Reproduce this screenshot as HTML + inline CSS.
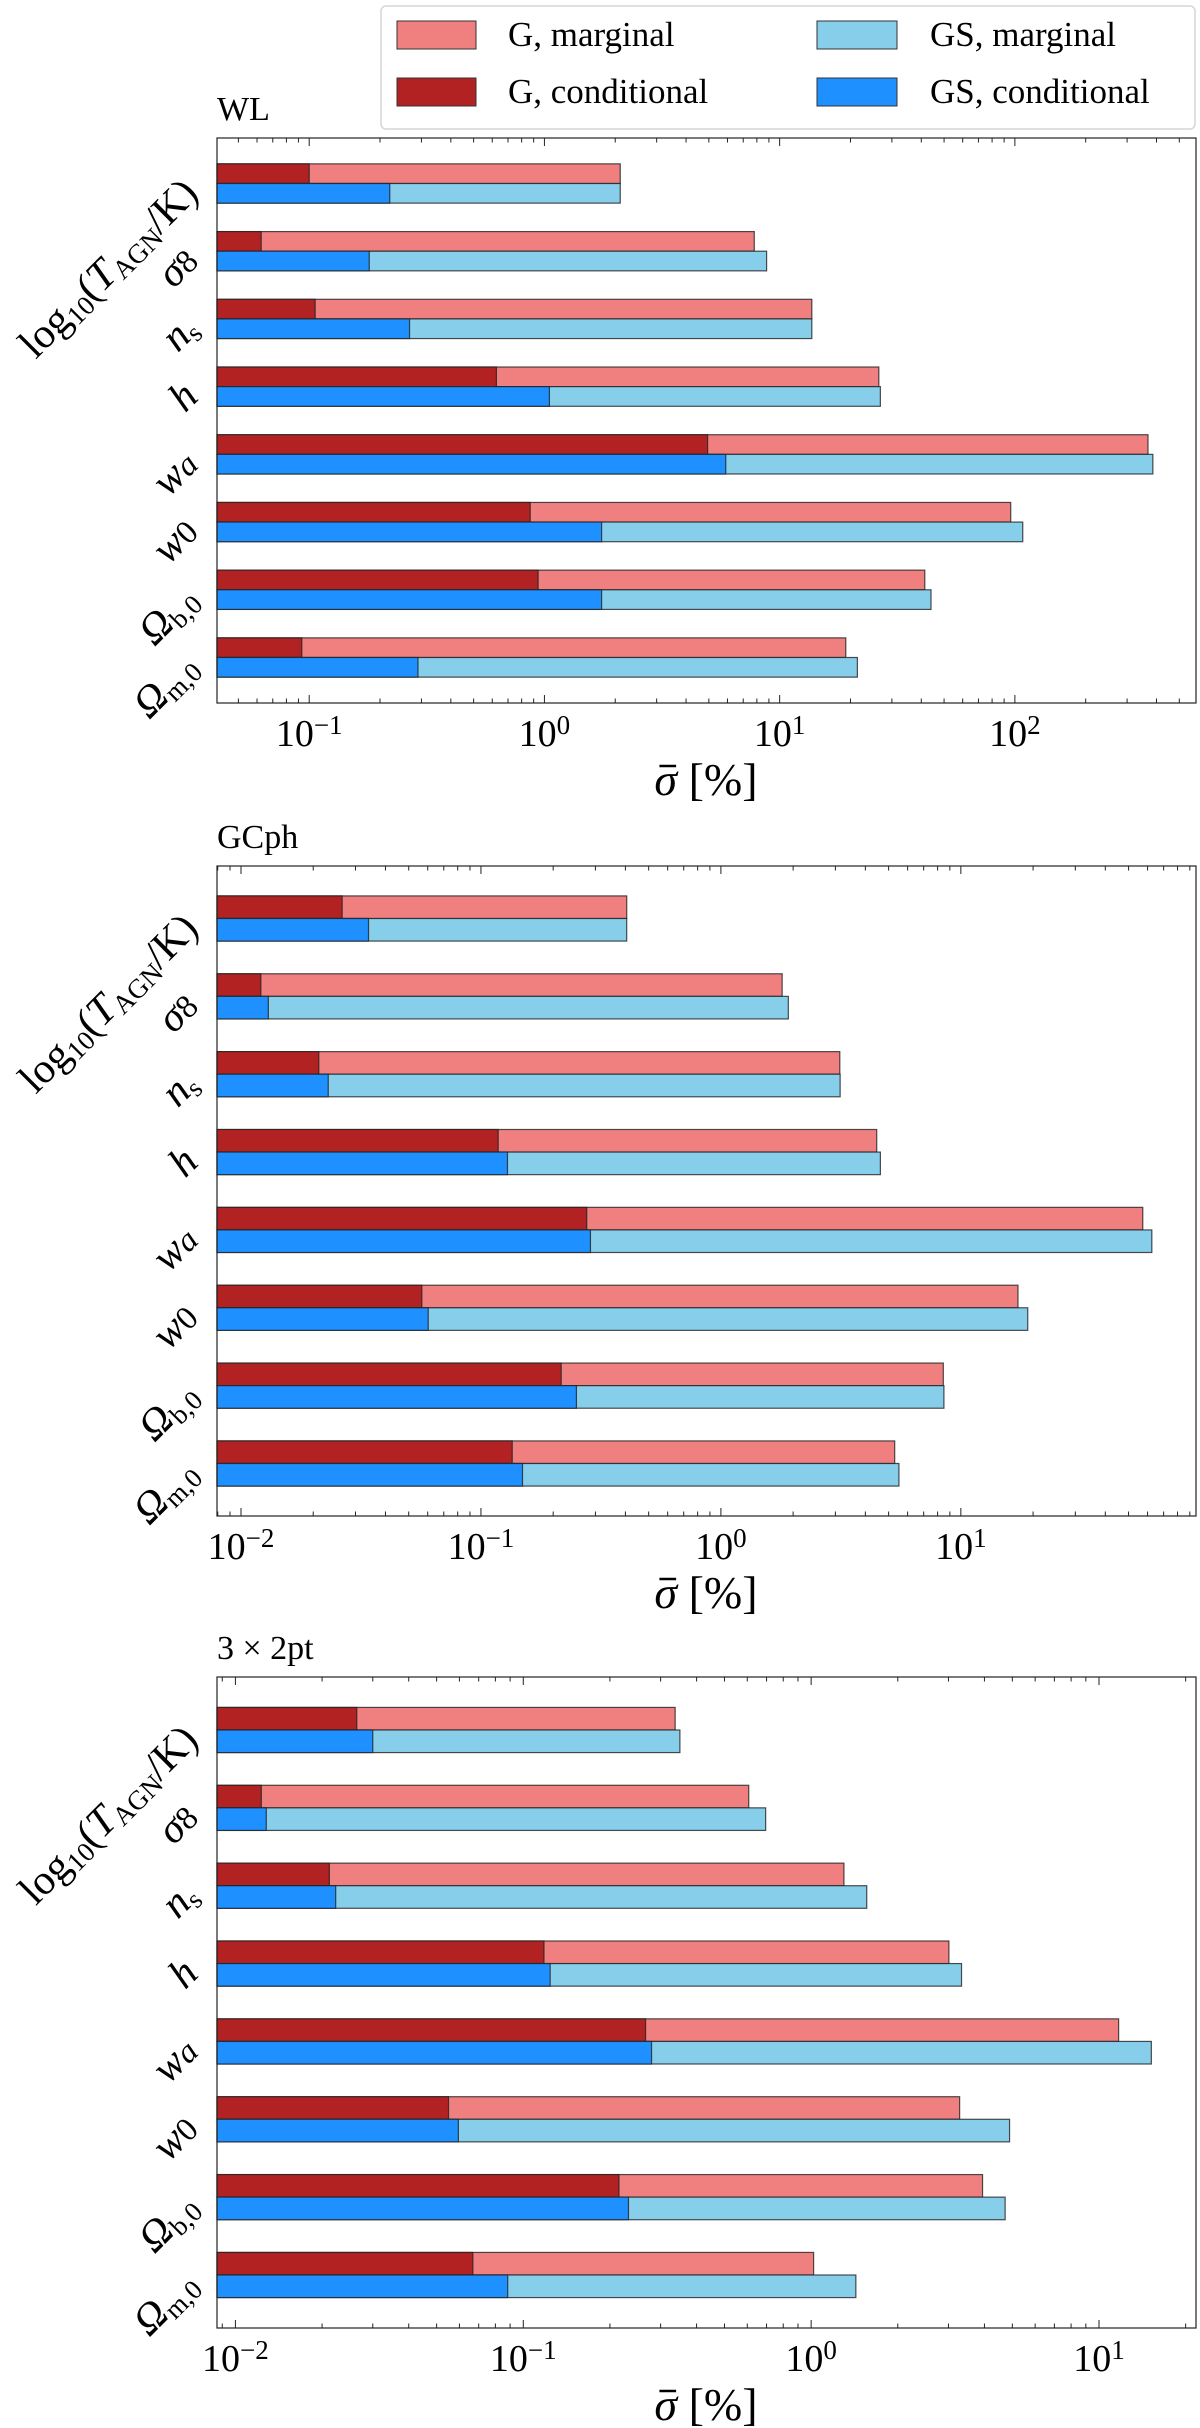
<!DOCTYPE html>
<html><head><meta charset="utf-8">
<style>
html,body{margin:0;padding:0;background:#fff;}
svg{display:block;font-family:"Liberation Serif","DejaVu Serif",serif;}
</style></head>
<body>
<svg id="fig" width="1200" height="2428" viewBox="0 0 1200 2428" xmlns="http://www.w3.org/2000/svg">
  <g id="legend">
    <rect x="381" y="6" width="814" height="123" rx="5" fill="#fff" stroke="#d6d6d6" stroke-width="1.5"/>
    <g><rect x="397" y="21" width="79" height="28" fill="#f08080" stroke="#333" stroke-width="1"/><text x="508" y="46" font-size="35">G, marginal</text></g>
    <g><rect x="397" y="78" width="79" height="28" fill="#b22222" stroke="#333" stroke-width="1"/><text x="508" y="103" font-size="35">G, conditional</text></g>
    <g><rect x="817" y="21" width="80" height="28" fill="#87ceeb" stroke="#333" stroke-width="1"/><text x="930" y="46" font-size="35">GS, marginal</text></g>
    <g><rect x="817" y="78" width="80" height="28" fill="#1e90ff" stroke="#333" stroke-width="1"/><text x="930" y="103" font-size="35">GS, conditional</text></g>
  </g>
</svg>
<script>
// categories top to bottom
const categories = ["log10(T_AGN/K)","sigma8","n_s","h","w_a","w_0","Omega_b0","Omega_m0"];
// WL panel
const wlGMarg = [2.1, 7.8, 13.7, 26.4, 368, 96, 41.4, 19.1];
const wlGCond = [0.1, 0.0625, 0.106, 0.625, 4.94, 0.87, 0.94, 0.093];
const wlGSMarg = [2.1, 8.8, 13.7, 26.8, 386, 108, 44, 21.4];
const wlGSCond = [0.22, 0.18, 0.267, 1.05, 5.9, 1.75, 1.75, 0.29];
// GCph panel
const gcGMarg = [0.405, 1.80, 3.13, 4.46, 57.3, 17.3, 8.45, 5.3];
const gcGCond = [0.0264, 0.0121, 0.0211, 0.118, 0.276, 0.0567, 0.216, 0.135];
const gcGSMarg = [0.405, 1.91, 3.14, 4.62, 62.5, 19.0, 8.5, 5.52];
const gcGSCond = [0.034, 0.013, 0.0231, 0.129, 0.286, 0.0603, 0.25, 0.149];
// 3x2pt panel
const xcGMarg = [0.337, 0.607, 1.30, 3.01, 11.7, 3.28, 3.94, 1.02];
const xcGCond = [0.0264, 0.0123, 0.0212, 0.118, 0.266, 0.055, 0.215, 0.0668];
const xcGSMarg = [0.35, 0.695, 1.56, 3.33, 15.2, 4.89, 4.72, 1.43];
const xcGSCond = [0.030, 0.0128, 0.0223, 0.124, 0.279, 0.0595, 0.232, 0.0883];
// tick exponents per panel
const wlTicks = [-1, 0, 1, 2];
const gcTicks = [-2, -1, 0, 1];
const xcTicks = [-2, -1, 0, 1];

const NS = "http://www.w3.org/2000/svg";
const svg = document.getElementById("fig");
function el(tag, attrs, parent){
  const e = document.createElementNS(NS, tag);
  for (const k in attrs) e.setAttribute(k, attrs[k]);
  (parent || svg).appendChild(e);
  return e;
}
function ts(parent, text, attrs){
  const t = document.createElementNS(NS, "tspan");
  for (const k in (attrs||{})) t.setAttribute(k, attrs[k]);
  t.textContent = text;
  parent.appendChild(t);
  return t;
}
function yLabel(t, i){
  const it = {"font-style":"italic"};
  const sub = {"font-size":"27","baseline-shift":"-22%"};
  if (i===0){ ts(t,"log"); ts(t,"10",sub); ts(t,"(",{}); ts(t,"T",it); ts(t,"AGN",sub); ts(t,"/K)"); }
  else if (i===1){ ts(t,"σ",it); ts(t,"8",{"font-size":"33"}); }
  else if (i===2){ ts(t,"n",it); ts(t,"s",sub); }
  else if (i===3){ ts(t,"h",it); }
  else if (i===4){ ts(t,"w",it); ts(t,"a",{"font-style":"italic","font-size":"33"}); }
  else if (i===5){ ts(t,"w",it); ts(t,"0",{"font-size":"33"}); }
  else if (i===6){ ts(t,"Ω",it); ts(t,"b,0",sub); }
  else { ts(t,"Ω",it); ts(t,"m,0",sub); }
}

function panel(p){
  const g = el("g", {});
  
  
  const L=217, R=1196, T=p.top, B=p.bottom;
  const xScale = v => L + (Math.log10(v) - p.lmin) / (p.lmax - p.lmin) * (R - L);
  const n = categories.length;
  const step = (B - T - 2*p.pad) / (n - 1);
  const bh = step * 0.29;
  const series = [
    [p.gm, "#f08080", -1, "g-marginal"], [p.gc, "#b22222", -1, "g-conditional"],
    [p.sm, "#87ceeb", 0, "gs-marginal"], [p.sc, "#1e90ff", 0, "gs-conditional"]];
  for (let i=0;i<n;i++){
    const cy = T + p.pad + i*step;
    for (const s of series){
      const r = el("rect", {x:L, y:cy + s[2]*bh, width:Math.max(0,xScale(s[0][i])-L), height:bh,
        fill:s[1], stroke:"#222", "stroke-opacity":"0.8", "stroke-width":"1.2"}, g);
      
      
    }
    const t = el("text", {x:0, y:0, "font-size":"42", "text-anchor":"end",
      transform:"translate(" + 200 + "," + (cy+12) + ") rotate(-45)"}, g);
    
    
    yLabel(t, i);
  }
  const fr = el("rect", {x:L, y:T, width:R-L, height:B-T, fill:"none", stroke:"#222", "stroke-width":"1.2"}, g);
  
  
  for (let e=Math.floor(p.lmin); e<=Math.ceil(p.lmax); e++){
    for (let m=1;m<10;m++){
      const lv = e + Math.log10(m);
      if (lv < p.lmin || lv > p.lmax) continue;
      const x = xScale(Math.pow(10, lv));
      const len = m===1 ? 8 : 4.5;
      el("line", {x1:x, y1:B, x2:x, y2:B-len, stroke:"#222", "stroke-width":"1"}, g);
      el("line", {x1:x, y1:T, x2:x, y2:T+len, stroke:"#222", "stroke-width":"1"}, g);
    }
  }
  for (const e of p.ticks){
    const x = xScale(Math.pow(10, e));
    const t = el("text", {x:x, y:B+43, "font-size":"38", "text-anchor":"middle"}, g);
    
    
    ts(t, "10");
    ts(t, e<0 ? "−"+(-e) : String(e), {"font-size":"27","baseline-shift":"45%"});
  }
  const xl = el("text", {x:706, y:B+92, "font-size":"46", "text-anchor":"middle"}, g);
  
  
  ts(xl, "σ", {"font-style":"italic"}); ts(xl, " [%]");
  try {
    const ext = xl.getExtentOfChar(0);
    const bar = el("line", {x1:ext.x+5, x2:ext.x+ext.width-1, y1:B+63, y2:B+63, stroke:"#000", "stroke-width":"2.5"}, g);
    
    
  } catch(err) {}
  const ti = el("text", {x:217, y:T-18, "font-size":"34"}, g);
  
  
  ti.textContent = p.title;
}
panel({name:"wl-panel", title:"WL", top:138, bottom:703, pad:45.5, lmin:-1.392, lmax:2.77,
  gm:wlGMarg, gc:wlGCond, sm:wlGSMarg, sc:wlGSCond, ticks:wlTicks});
panel({name:"gcph-panel", title:"GCph", top:866, bottom:1516, pad:52.5, lmin:-2.1, lmax:1.98,
  gm:gcGMarg, gc:gcGCond, sm:gcGSMarg, sc:gcGSCond, ticks:gcTicks});
panel({name:"3x2pt-panel", title:"3 × 2pt", top:1677, bottom:2328, pad:53, lmin:-2.064, lmax:1.337,
  gm:xcGMarg, gc:xcGCond, sm:xcGSMarg, sc:xcGSCond, ticks:xcTicks});
svg.appendChild(document.getElementById("legend"));
</script>
</body></html>
